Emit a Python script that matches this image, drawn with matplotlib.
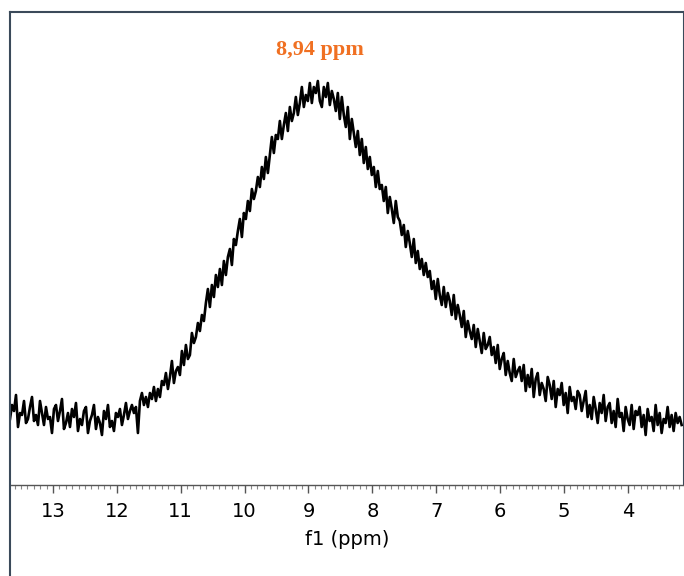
import numpy as np
import matplotlib
matplotlib.use("Agg")
import matplotlib.pyplot as plt
from matplotlib.ticker import MultipleLocator

# chemical shift range covered by the trace (ppm), uniform spectral grid
ppm_start = 13.673
ppm_end = 3.157
n_points = 337

# intensity (arbitrary units), left -> right
intensity = [
    66, 80, 74, 90, 58, 72, 70, 84, 62, 66, 78, 88, 64, 70, 60,
    84, 72, 60, 78, 66, 68, 52, 76, 80, 64, 74, 86, 56, 62, 72,
    58, 76, 68, 82, 54, 66, 60, 74, 78, 52, 64, 70, 80, 56, 68,
    62, 50, 74, 66, 80, 58, 64, 54, 72, 68, 76, 60, 70, 82, 66,
    74, 80, 72, 78, 52, 84, 92, 80, 88, 78, 92, 86, 98, 84, 96,
    88, 104, 100, 112, 96, 108, 124, 102, 114, 118, 110, 134, 120, 140, 126,
    130, 152, 142, 148, 162, 154, 170, 164, 182, 196, 178, 200, 188, 210, 198,
    216, 200, 224, 210, 228, 236, 220, 246, 240, 254, 266, 248, 272, 266, 284,
    274, 296, 286, 294, 308, 298, 318, 306, 328, 312, 330, 348, 332, 350, 346,
    364, 346, 360, 372, 354, 378, 364, 372, 388, 370, 382, 398, 378, 390, 384,
    402, 382, 398, 392, 404, 384, 378, 398, 388, 402, 380, 394, 386, 374, 392,
    366, 388, 370, 358, 378, 346, 366, 352, 338, 354, 330, 346, 322, 338, 316,
    328, 310, 318, 298, 314, 296, 300, 284, 298, 272, 288, 276, 262, 284, 268,
    264, 250, 260, 238, 254, 242, 228, 246, 222, 234, 216, 226, 210, 222, 208,
    214, 196, 204, 186, 206, 190, 180, 198, 178, 192, 184, 170, 190, 166, 180,
    170, 158, 174, 148, 164, 154, 146, 160, 138, 156, 144, 132, 152, 136, 140,
    148, 130, 138, 122, 140, 116, 126, 132, 110, 124, 112, 104, 126, 108, 114,
    118, 104, 120, 94, 110, 98, 116, 88, 106, 112, 90, 102, 96, 84, 108,
    100, 86, 104, 78, 96, 90, 102, 80, 92, 72, 98, 84, 88, 76, 94,
    90, 74, 84, 94, 68, 80, 66, 88, 76, 62, 82, 72, 90, 64, 78,
    82, 62, 74, 58, 86, 68, 72, 54, 78, 66, 60, 80, 56, 74, 70,
    78, 58, 70, 50, 76, 64, 68, 54, 80, 60, 72, 52, 66, 62, 78,
    58, 70, 54, 72, 62, 68, 60,
]

peak_ppm = 8.94
peak_label = "8,94 ppm"
xlabel = "f1 (ppm)"
tick_values = [13, 12, 11, 10, 9, 8, 7, 6, 5, 4]

shift = np.linspace(ppm_start, ppm_end, n_points)

frame_col = "#3b4a5a"

fig = plt.figure(figsize=(6.84, 5.76), dpi=100)
ax = fig.add_axes([10 / 684, 91 / 576, 674 / 684, 473 / 576])

ax.plot(shift, intensity, color="black", lw=1.9)

ax.set_xlim(13.673, 3.12)
ax.set_ylim(0, 473)

ax.set_xticks(tick_values)
ax.xaxis.set_minor_locator(MultipleLocator(0.1))
ax.tick_params(axis="x", which="major", length=6, width=1, color="#555555",
               labelsize=14, pad=6)
ax.tick_params(axis="x", which="minor", length=3, width=0.8, color="#888888")
ax.set_yticks([])
ax.set_xlabel(xlabel, fontsize=14, labelpad=7)

ax.spines["bottom"].set_color("#555555")
ax.spines["bottom"].set_linewidth(1)
for s in ["top", "left", "right"]:
    ax.spines[s].set_color(frame_col)
    ax.spines[s].set_linewidth(1.5)
ax.spines["left"].set_visible(False)

# outer frame line on the left runs down to the bottom of the picture
fig.add_artist(plt.Line2D([10 / 684, 10 / 684], [0, 564 / 576],
                          color=frame_col, lw=1.5))

ax.text(8.82, 435, peak_label, color="#f07022", fontsize=16,
        fontweight="bold", family="Liberation Serif", ha="center", va="center")

fig.savefig("out.png", dpi=100)
